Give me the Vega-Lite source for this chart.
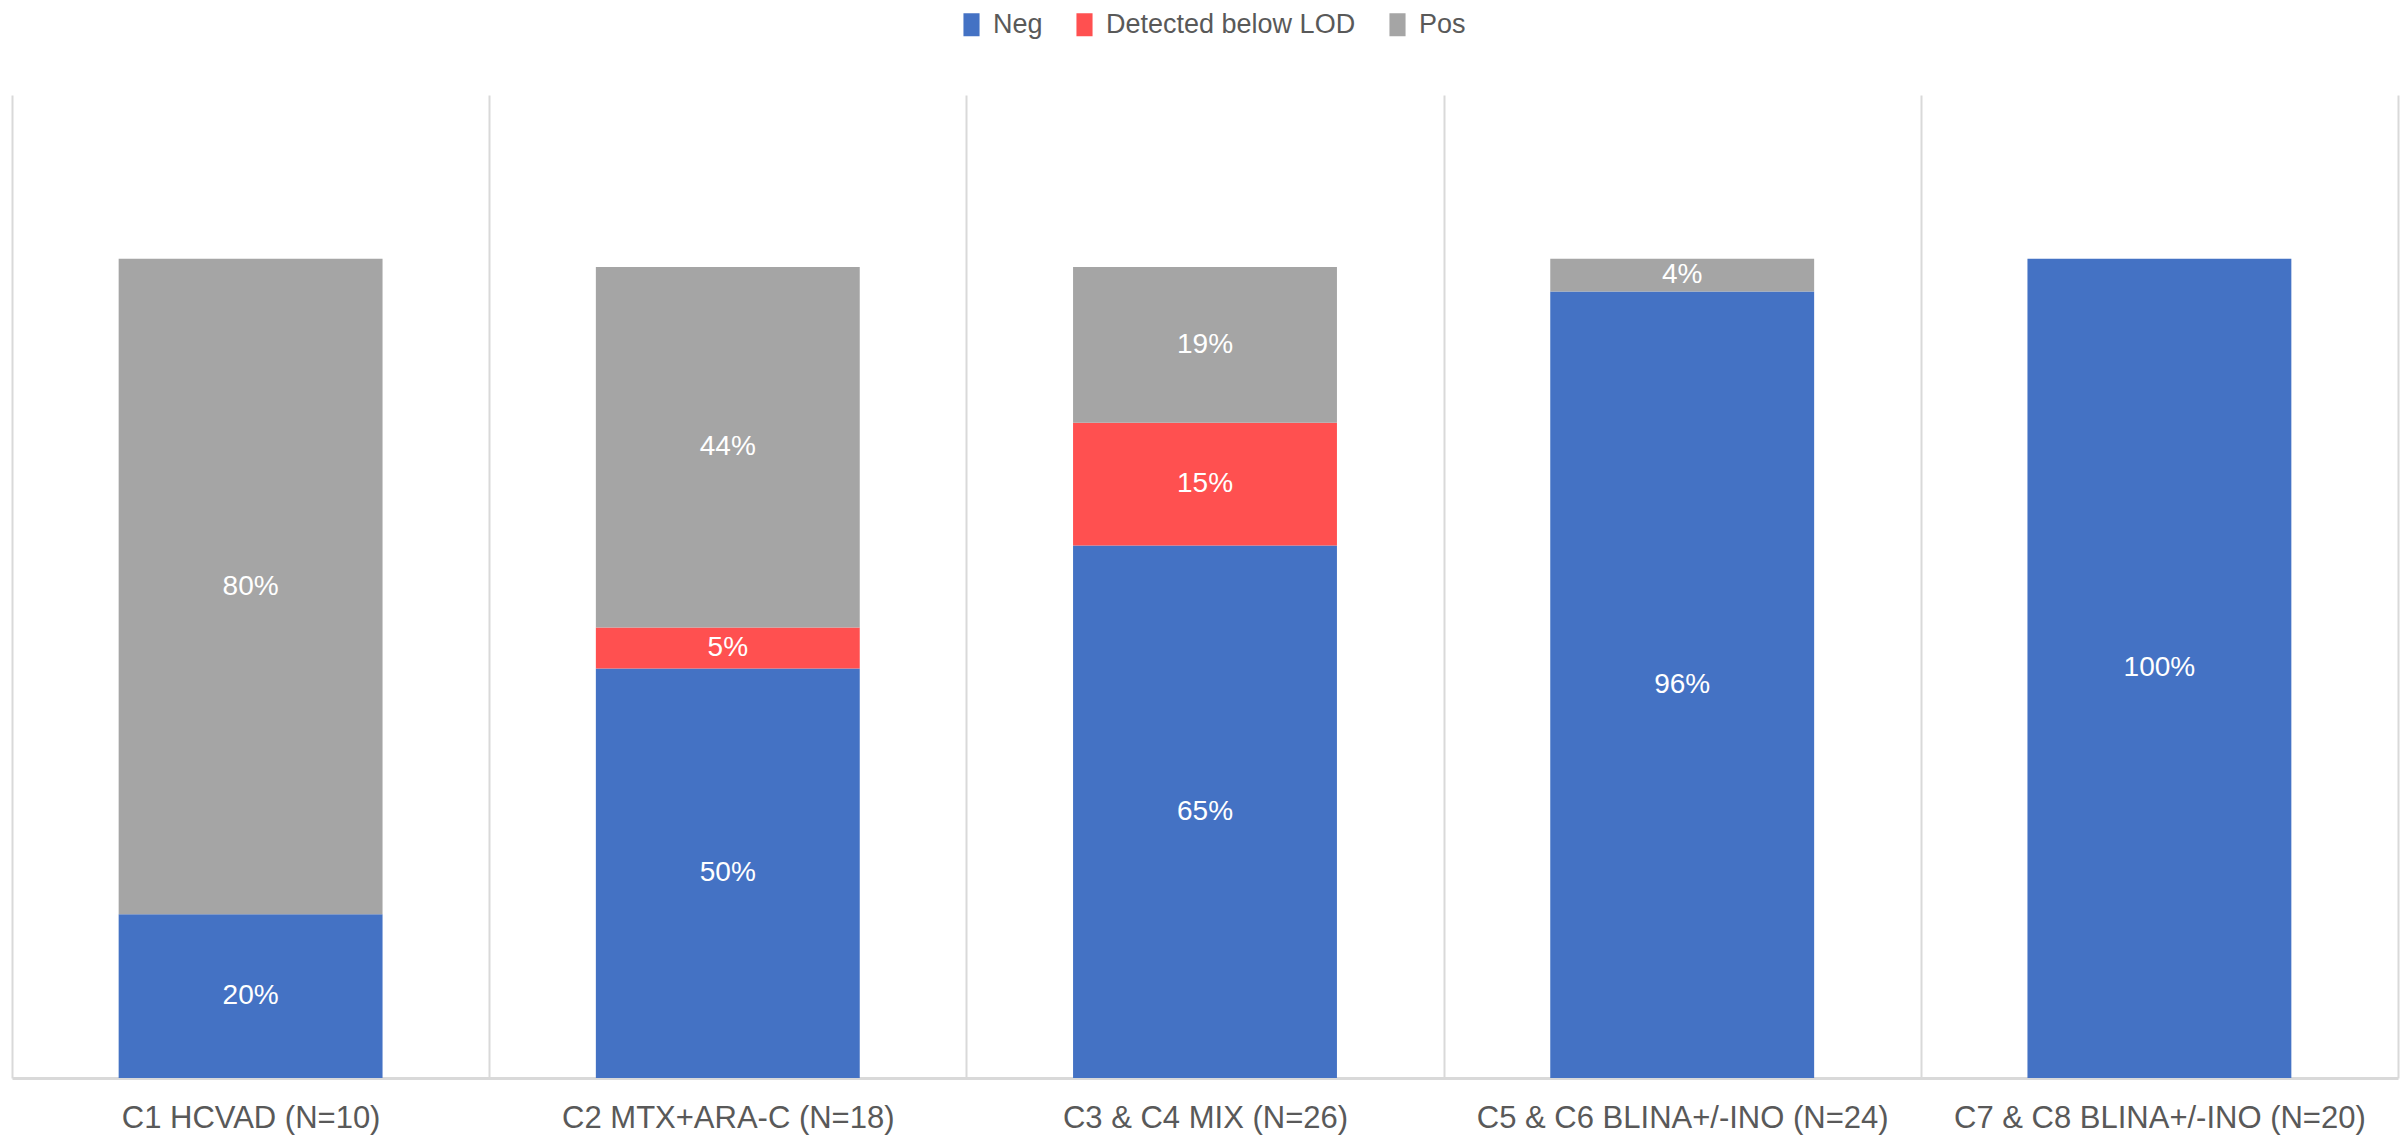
{
  "$schema": "https://vega.github.io/schema/vega-lite/v6.json",
  "width": 2386,
  "height": 983,
  "autosize": {"type": "none"},
  "padding": {"left": 12, "top": 95, "right": 9, "bottom": 58},
  "background": "white",
  "view": {"stroke": null},
  "data": {
    "values": [
      {"cohort": "C1 HCVAD (N=10)", "status": "Neg", "seq": 1, "share": 0.20},
      {"cohort": "C1 HCVAD (N=10)", "status": "Pos", "seq": 3, "share": 0.80},
      {"cohort": "C2 MTX+ARA-C (N=18)", "status": "Neg", "seq": 1, "share": 0.50},
      {"cohort": "C2 MTX+ARA-C (N=18)", "status": "Detected below LOD", "seq": 2, "share": 0.05},
      {"cohort": "C2 MTX+ARA-C (N=18)", "status": "Pos", "seq": 3, "share": 0.44},
      {"cohort": "C3 & C4 MIX (N=26)", "status": "Neg", "seq": 1, "share": 0.65},
      {"cohort": "C3 & C4 MIX (N=26)", "status": "Detected below LOD", "seq": 2, "share": 0.15},
      {"cohort": "C3 & C4 MIX (N=26)", "status": "Pos", "seq": 3, "share": 0.19},
      {"cohort": "C5 & C6 BLINA+/-INO (N=24)", "status": "Neg", "seq": 1, "share": 0.96},
      {"cohort": "C5 & C6 BLINA+/-INO (N=24)", "status": "Pos", "seq": 3, "share": 0.04},
      {"cohort": "C7 & C8 BLINA+/-INO (N=20)", "status": "Neg", "seq": 1, "share": 1.00}
    ]
  },
  "encoding": {
    "x": {
      "field": "cohort",
      "type": "nominal",
      "sort": null,
      "scale": {"paddingInner": 0, "paddingOuter": 0},
      "axis": {
        "title": null,
        "labelAngle": 0,
        "labelLimit": 0,
        "ticks": false,
        "grid": true,
        "tickBand": "extent",
        "gridColor": "#d9d9d9",
        "gridWidth": 2,
        "domainColor": "#d9d9d9",
        "domainWidth": 3,
        "labelFont": "Liberation Sans",
        "labelFontSize": 31,
        "labelColor": "#595959",
        "labelPadding": 25
      }
    },
    "y": {
      "field": "share",
      "type": "quantitative",
      "stack": "zero",
      "scale": {"domain": [0, 1.2], "nice": false},
      "axis": null
    },
    "order": {"field": "seq", "type": "quantitative", "sort": "ascending"}
  },
  "layer": [
    {
      "mark": {"type": "bar", "width": {"band": 0.553}},
      "encoding": {
        "color": {
          "field": "status",
          "type": "nominal",
          "scale": {
            "domain": ["Neg", "Detected below LOD", "Pos"],
            "range": ["#4472c4", "#ff5050", "#a5a5a5"]
          },
          "legend": {
            "title": null,
            "orient": "none",
            "direction": "horizontal",
            "legendX": 946,
            "legendY": -84,
            "padding": 0,
            "symbolType": "M-0.7,-1H0.7V1H-0.7Z",
            "symbolSize": 529,
            "symbolStrokeWidth": 0,
            "labelFont": "Liberation Sans",
            "labelFontSize": 27,
            "labelColor": "#595959",
            "labelLimit": 0,
            "labelOffset": 8,
            "columnPadding": 28
          }
        }
      }
    },
    {
      "mark": {"type": "text", "color": "white", "font": "Liberation Sans", "fontSize": 28, "baseline": "middle"},
      "encoding": {
        "y": {"field": "share", "type": "quantitative", "stack": "zero", "bandPosition": 0.5},
        "text": {"field": "share", "type": "quantitative", "format": ".0%"}
      }
    }
  ]
}
